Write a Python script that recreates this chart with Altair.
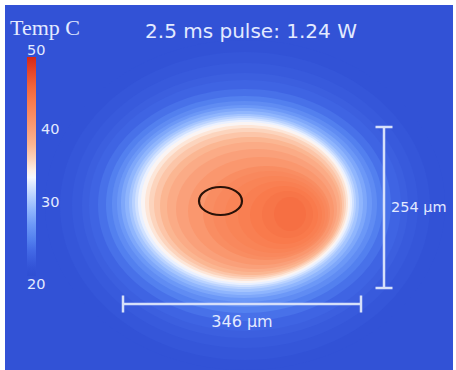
import altair as alt
import pandas as pd

# ---------------- values (image pixel coordinates) ----------------
title_text = "2.5 ms pulse: 1.24 W"
legend_title = "Temp C"

# isotherms of the heated spot: temperature and its left/right/top/bottom extent
iso_temp   = [21, 21.5, 22, 22.5, 23, 24, 25, 26, 27, 28, 29, 30, 31, 32, 33, 34, 35, 36,
              37, 38, 39, 40, 41, 42, 42.5, 43, 43.5, 44, 44.5, 45]
iso_left   = [45, 60, 72, 82, 89, 98, 106, 112, 117, 121, 125, 129, 132, 135, 138, 141, 145, 149,
              154, 160, 167, 176, 188, 203, 213, 225, 238, 250, 262, 274]
iso_right  = [445, 430, 418, 408, 401, 391, 383, 377, 372, 367, 363, 359, 356, 354, 352, 350, 348, 346,
              344, 342, 340, 337, 334, 330, 328, 325, 322, 318, 313, 306]
iso_top    = [40, 52, 63, 73, 80, 89, 96, 101, 105, 108, 111, 114, 116, 118, 120, 122, 125, 128,
              132, 137, 142, 149, 157, 166, 171, 176, 181, 186, 191, 197]
iso_bottom = [370, 360, 348, 338, 331, 321, 313, 307, 302, 298, 295, 292, 289, 287, 285, 283, 281, 279,
              277, 275, 272, 269, 265, 260, 257, 253, 249, 244, 238, 231]

# probe ellipse (black outline)
probe_left, probe_right, probe_top, probe_bottom = [199], [242], [187], [215]

# scale bars
bar_labels = ["346 µm", "254 µm"]
hbar_x1, hbar_x2, hbar_y = 123, 361, 304
vbar_x, vbar_y1, vbar_y2 = 384, 127, 288

# colour bar
cbar_ticks = [20, 30, 40, 50]
pal_T = [20, 21, 22, 23.5, 25, 27, 29, 31, 32.5, 33.5, 34.5, 36, 38, 40, 42, 44, 46, 48, 50]
pal_C = ["#2f4fd3", "#3252d6", "#385adc", "#4369e6", "#5380ef", "#6c98f7", "#8fb5fd", "#b9d2ff",
         "#dce8ff", "#f6f8ff", "#fdefe6", "#fcd4bd", "#fbb692", "#faa07a", "#f98d62", "#f97a4c",
         "#f2643a", "#e6462a", "#d42818"]

# ---------------- styling ----------------
BG = "#3252d6"
TXT = "#e3eaff"
BAR = "#d6e0fa"
CAP = 8.5
W, H = 448, 365
PAD = {"left": 5, "top": 5, "right": 3, "bottom": 0}

xs = alt.Scale(domain=[5, 453], nice=False, zero=False)
ys = alt.Scale(domain=[5, 370], nice=False, zero=False, reverse=True)
tscale = alt.Scale(domain=pal_T, range=pal_C, interpolate="rgb")

K = 0.5523
path_expr = (
    "'M 1 0 C 1 ' + (%(k)s*datum.q) + ' %(k)s ' + datum.q + ' 0 ' + datum.q + "
    "' C -%(k)s ' + datum.q + ' -1 ' + (%(k)s*datum.q) + ' -1 0 C -1 ' + (-%(k)s*datum.q) + "
    "' -%(k)s ' + (-datum.q) + ' 0 ' + (-datum.q) + ' C %(k)s ' + (-datum.q) + ' 1 ' + (-%(k)s*datum.q) + ' 1 0 Z'"
) % {"k": K}


def ellipse_chart(df):
    return alt.Chart(df).transform_calculate(
        cx="(datum.l + datum.r) / 2",
        cy="(datum.t + datum.b) / 2",
        sz="(datum.r - datum.l) * (datum.r - datum.l)",
        q="(datum.b - datum.t) / (datum.r - datum.l)",
    ).transform_calculate(path=path_expr)


iso = pd.DataFrame({"T": iso_temp, "l": iso_left, "r": iso_right, "t": iso_top,
                    "b": iso_bottom, "idx": list(range(len(iso_temp)))})

field = ellipse_chart(iso).mark_point(filled=True, opacity=1, strokeWidth=0).encode(
    x=alt.X("cx:Q", scale=xs, axis=None),
    y=alt.Y("cy:Q", scale=ys, axis=None),
    shape=alt.Shape("path:N", scale=None),
    size=alt.Size("sz:Q", scale=None),
    color=alt.Color("T:Q", scale=tscale, legend=None),
    order=alt.Order("idx:Q"),
)

probe_df = pd.DataFrame({"l": probe_left, "r": probe_right, "t": probe_top, "b": probe_bottom})
probe = ellipse_chart(probe_df).mark_point(filled=False, opacity=1, stroke="#2a1208", strokeWidth=2.2).encode(
    x=alt.X("cx:Q", scale=xs, axis=None),
    y=alt.Y("cy:Q", scale=ys, axis=None),
    shape=alt.Shape("path:N", scale=None),
    size=alt.Size("sz:Q", scale=None),
)

segs = pd.DataFrame({
    "x":  [hbar_x1, hbar_x1, hbar_x2, vbar_x, vbar_x - CAP, vbar_x - CAP],
    "x2": [hbar_x2, hbar_x1, hbar_x2, vbar_x, vbar_x + CAP, vbar_x + CAP],
    "y":  [hbar_y, hbar_y - CAP, hbar_y - CAP, vbar_y1, vbar_y1, vbar_y2],
    "y2": [hbar_y, hbar_y + CAP, hbar_y + CAP, vbar_y2, vbar_y1, vbar_y2],
})
bars = alt.Chart(segs).mark_rule(color=BAR, strokeWidth=2.5).encode(
    x=alt.X("x:Q", scale=xs, axis=None), x2="x2:Q",
    y=alt.Y("y:Q", scale=ys, axis=None), y2="y2:Q",
)

hlabel = alt.Chart(pd.DataFrame({"s": [bar_labels[0]], "x": [(hbar_x1 + hbar_x2) / 2]})).mark_text(
    font="DejaVu Sans", fontSize=16, color=TXT, align="center", baseline="alphabetic", dy=23
).encode(x=alt.X("x:Q", scale=xs, axis=None), y=alt.value(hbar_y - 5), text="s:N")

vlabel = alt.Chart(pd.DataFrame({"s": [bar_labels[1]], "y": [(vbar_y1 + vbar_y2) / 2]})).mark_text(
    font="DejaVu Sans", fontSize=14.5, color=TXT, align="left", baseline="middle", dx=7
).encode(x=alt.value(vbar_x - 5), y=alt.Y("y:Q", scale=ys, axis=None), text="s:N")

title = alt.Chart(pd.DataFrame({"s": [title_text]})).mark_text(
    font="DejaVu Sans", fontSize=20, color=TXT, align="center", baseline="alphabetic"
).encode(x=alt.value(246), y=alt.value(33), text="s:N")

ltitle = alt.Chart(pd.DataFrame({"s": [legend_title]})).mark_text(
    font="Liberation Serif", fontSize=22, color=TXT, align="left", baseline="alphabetic"
).encode(x=alt.value(5), y=alt.value(30), text="s:N")

image = alt.layer(field, probe, bars, hlabel, vlabel, title, ltitle)

# colour bar with its own vertical scale
cbs = alt.Scale(domain=[20, 50], range=[271, 52], nice=False, zero=False)
grad = alt.LinearGradient(
    gradient="linear", x1=0, x2=0, y1=1, y2=0,
    stops=[alt.GradientStop(color=c, offset=(t - 20) / 30) for t, c in zip(pal_T, pal_C)],
)
cbar_rect = alt.Chart(pd.DataFrame({"lo": [cbar_ticks[0]], "hi": [cbar_ticks[-1]]})).mark_rect(color=grad).encode(
    x=alt.value(22), x2=alt.value(31),
    y=alt.Y("lo:Q", scale=cbs, axis=None), y2="hi:Q",
)
ticks_df = pd.DataFrame({"v": cbar_ticks})
cb_font = dict(font="DejaVu Sans", fontSize=14.5, color=TXT, align="left")
mid_labels = alt.Chart(ticks_df).transform_filter(
    (alt.datum.v > cbar_ticks[0]) & (alt.datum.v < cbar_ticks[-1])
).mark_text(baseline="middle", **cb_font).encode(
    x=alt.value(36), y=alt.Y("v:Q", scale=cbs, axis=None), text="v:Q")
top_label = alt.Chart(ticks_df).transform_filter(alt.datum.v == cbar_ticks[-1]).mark_text(
    baseline="bottom", dy=1, **cb_font).encode(
    x=alt.value(22), y=alt.Y("v:Q", scale=cbs, axis=None), text="v:Q")
bot_label = alt.Chart(ticks_df).transform_filter(alt.datum.v == cbar_ticks[0]).mark_text(
    baseline="top", dy=2, **cb_font).encode(
    x=alt.value(22), y=alt.Y("v:Q", scale=cbs, axis=None), text="v:Q")

cbar = alt.layer(cbar_rect, mid_labels, top_label, bot_label)

chart = alt.layer(image, cbar).resolve_scale(y="independent", x="independent").properties(
    width=W, height=H, padding=PAD, autosize="none", background="white"
).configure_view(fill=BG, stroke=None)

chart.save("out.html", embed_options={"renderer": "svg", "actions": False})
